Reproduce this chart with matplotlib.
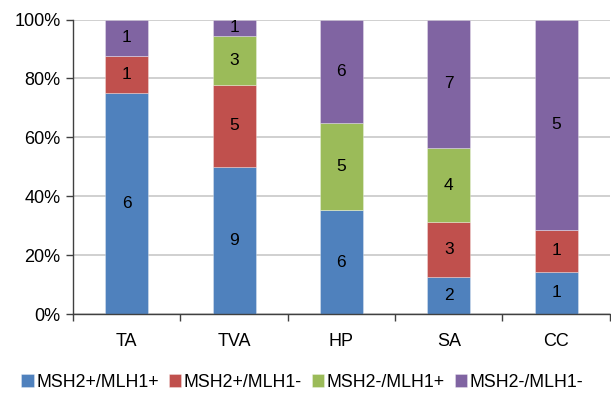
import matplotlib
matplotlib.use("Agg")
import matplotlib.pyplot as plt
import numpy as np

plt.rcParams['font.family'] = ['Liberation Sans', 'DejaVu Sans']

categories = ["TA", "TVA", "HP", "SA", "CC"]
series_names = ["MSH2+/MLH1+", "MSH2+/MLH1-", "MSH2-/MLH1+", "MSH2-/MLH1-"]
msh2p_mlh1p = [6, 9, 6, 2, 1]
msh2p_mlh1n = [1, 5, 0, 3, 1]
msh2n_mlh1p = [0, 3, 5, 4, 0]
msh2n_mlh1n = [1, 1, 6, 7, 5]
colors = ["#4F81BD", "#C0504D", "#9BBB59", "#8064A2"]

counts = np.array([msh2p_mlh1p, msh2p_mlh1n, msh2n_mlh1p, msh2n_mlh1n], dtype=float)
totals = counts.sum(axis=0)
shares = counts / totals * 100

fig = plt.figure(figsize=(6.11, 3.94), dpi=100)
ax = fig.add_axes([0.1195, 0.203, 0.8785, 0.7475])

x = np.arange(len(categories))
bottom = np.zeros(len(categories))
for name, vals, pct, col in zip(series_names, counts, shares, colors):
    ax.bar(x, pct, width=0.4, bottom=bottom, color=col, label=name,
           edgecolor=(1, 1, 1, 0.35), linewidth=0.6, zorder=3)
    for xi, v, p, b in zip(x, vals, pct, bottom):
        if v > 0:
            ax.text(xi, b + p / 2, f"{int(v)}", ha="center", va="center",
                    fontsize=12.5, color="#000000", zorder=4)
    bottom += pct

ax.set_xlim(-0.5, len(categories) - 0.5)
ax.set_ylim(0, 100)
ax.set_yticks(np.arange(0, 101, 20))
ax.set_yticklabels([f"{v}%" for v in range(0, 101, 20)], fontsize=13)
ax.set_xticks(x)
ax.set_xticklabels(categories, fontsize=13)
ax.set_xticks(np.arange(-0.5, len(categories)), minor=True)
ax.tick_params(axis="x", which="major", length=0, pad=14)
ax.tick_params(axis="x", which="minor", length=5, width=1, color="#404040")
ax.tick_params(axis="y", length=5, width=1, color="#404040", pad=4)

ax.yaxis.grid(True, color="#C8C8C8", linewidth=1.2, zorder=0)
ax.set_axisbelow(True)
for side in ("top", "right"):
    ax.spines[side].set_visible(False)
for side in ("left", "bottom"):
    ax.spines[side].set_color("#404040")
    ax.spines[side].set_linewidth(1)
    ax.spines[side].set_zorder(5)

fig.legend(loc="center", bbox_to_anchor=(0.495, 0.03), ncol=4, frameon=False,
           fontsize=12.8, handlelength=0.7, handleheight=0.7, handletextpad=0.15,
           columnspacing=0.55, borderaxespad=0)

fig.savefig("out.png", dpi=100)
